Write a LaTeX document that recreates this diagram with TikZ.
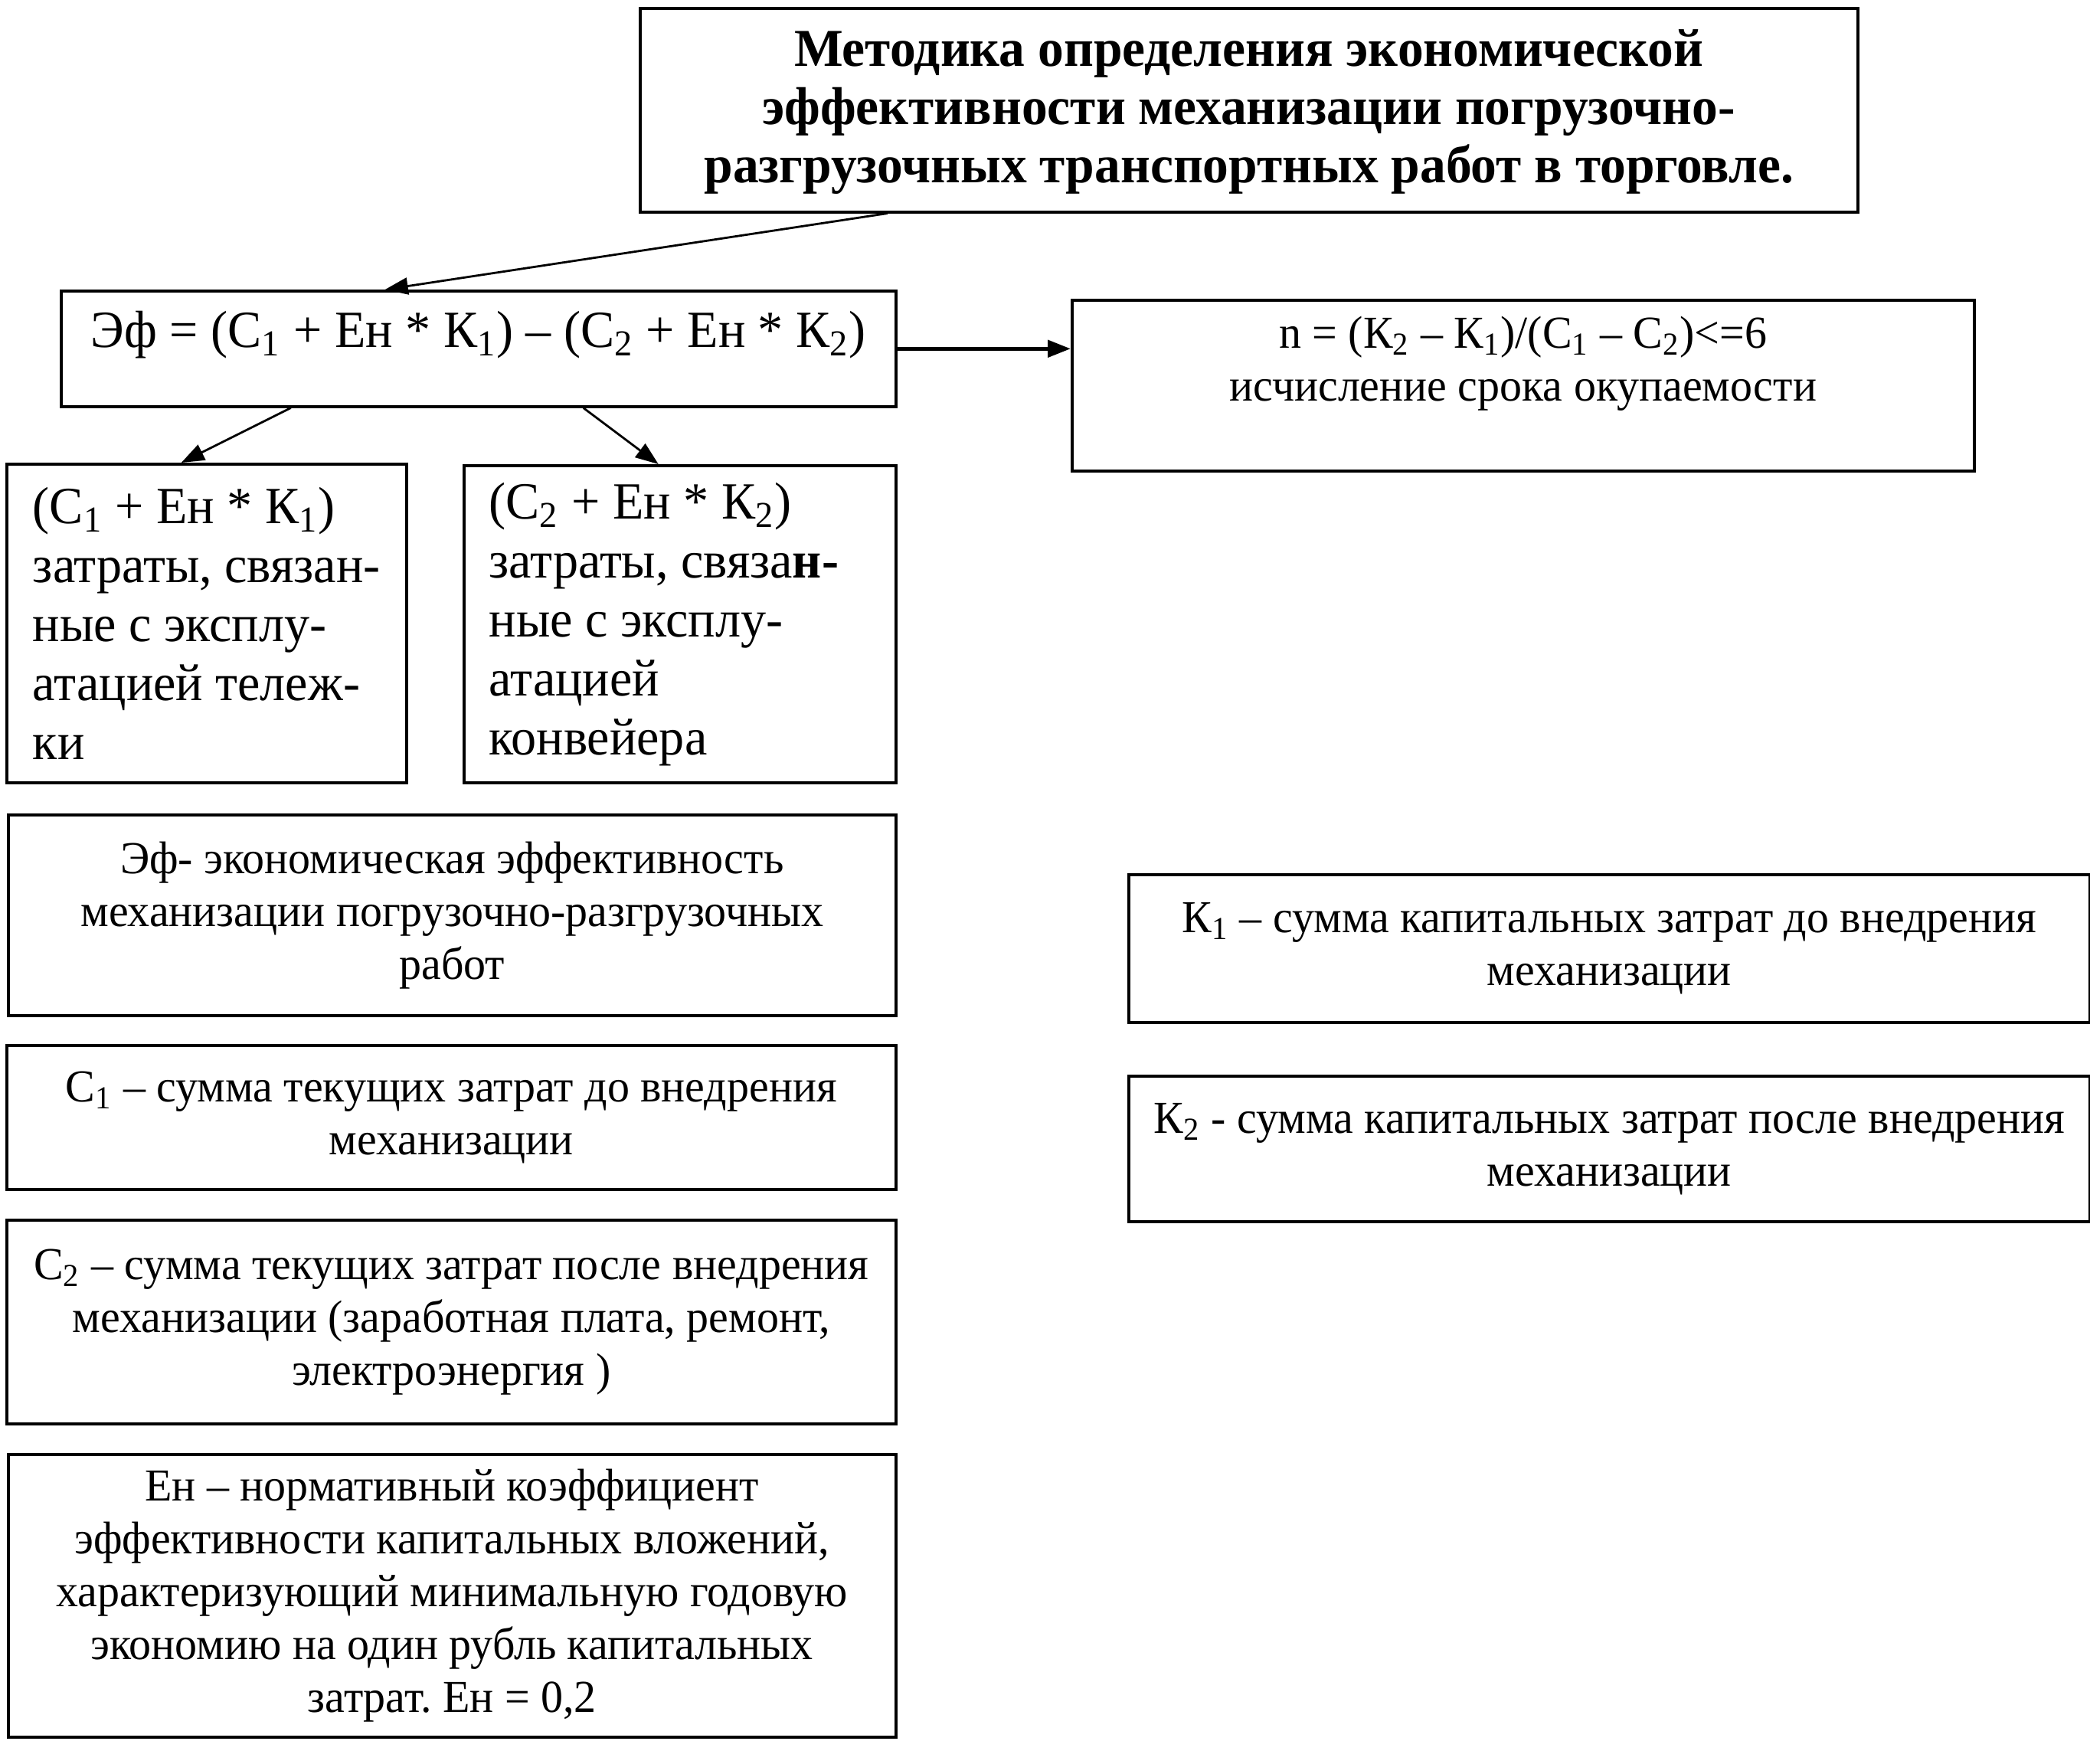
\documentclass[tikz,border=0pt]{standalone}
\usepackage{fontspec}
\setmainfont[FakeStretch=0.97]{Liberation Serif}
\usetikzlibrary{arrows.meta}
\frenchspacing

\begin{document}
\begin{tikzpicture}[
    box/.style={draw, line width=1pt, inner sep=0pt, anchor=north west},
    bigtxt/.style={font=\fontsize{19.4}{21.9}\selectfont},
    smalltxt/.style={font=\fontsize{17}{19.6}\selectfont, align=center},
    arr/.style={-{Triangle[length=0.3cm,width=0.22cm]}, line width=0.8pt}
]
    \useasboundingbox (0,0) rectangle (27.29,-23.02);

    % -------------------------------
    % заголовок и формула
    % -------------------------------
    \node[box, minimum width=15.90cm, minimum height=2.66cm, align=center, text depth=0.1cm,
          font=\bfseries\fontsize{19.8}{21.6}\selectfont] (title) at (8.34,-0.09)
        {Методика определения экономической\\
         эффективности механизации погрузочно-\\
         разгрузочных транспортных работ в торговле.};

    \node[box, bigtxt, minimum width=10.90cm, minimum height=1.51cm, text depth=0.5cm] (formula) at (0.78,-3.78)
        {Эф = (С\textsubscript{1} + Ен * К\textsubscript{1}) – (С\textsubscript{2} + Ен * К\textsubscript{2})};

    \node[box, smalltxt, minimum width=11.78cm, minimum height=2.23cm, text depth=0.7cm] (payback) at (13.98,-3.90)
        {n = (К\textsubscript{2} – К\textsubscript{1})/(С\textsubscript{1} – С\textsubscript{2})<=6\\
         исчисление срока окупаемости};

    % -------------------------------
    % две части формулы
    % -------------------------------
    \node[box, bigtxt, minimum width=5.22cm, minimum height=4.16cm, align=left] (tel) at (0.07,-6.04)
        {(С\textsubscript{1} + Ен * К\textsubscript{1})\\
         затраты, связан-\\
         ные с эксплу-\\
         атацией тележ-\\
         ки};

    \node[box, bigtxt, minimum width=5.64cm, minimum height=4.14cm, inner xsep=0.33cm,
          text width=4.98cm, align=flush left] (conv) at (6.04,-6.06)
        {(С\textsubscript{2} + Ен * К\textsubscript{2})\\
         затраты, связа\textbf{н-}\\
         ные с эксплу-\\
         атацией\\
         конвейера};

    % -------------------------------
    % обозначения
    % -------------------------------
    \node[box, smalltxt, minimum width=11.59cm, minimum height=2.62cm] (efdef) at (0.09,-10.62)
        {Эф- экономическая эффективность\\
         механизации погрузочно-разгрузочных\\
         работ};

    \node[box, smalltxt, minimum width=11.61cm, minimum height=1.88cm] (cadef) at (0.07,-13.63)
        {С\textsubscript{1} – сумма текущих затрат до внедрения\\
         механизации};

    \node[box, smalltxt, minimum width=11.61cm, minimum height=2.66cm] (cbdef) at (0.07,-15.91)
        {С\textsubscript{2} – сумма текущих затрат после внедрения\\
         механизации (заработная плата, ремонт,\\
         электроэнергия )};

    \node[box, smalltxt, minimum width=11.59cm, minimum height=3.69cm] (endef) at (0.09,-18.97)
        {Ен – нормативный коэффициент\\
         эффективности капитальных вложений,\\
         характеризующий минимальную годовую\\
         экономию на один рубль капитальных\\
         затрат. Ен = 0,2};

    \node[box, smalltxt, minimum width=12.55cm, minimum height=1.93cm] (kadef) at (14.72,-11.40)
        {К\textsubscript{1} – сумма капитальных затрат до внедрения\\
         механизации};

    \node[box, smalltxt, minimum width=12.55cm, minimum height=1.90cm] (kbdef) at (14.72,-14.03)
        {К\textsubscript{2} - сумма капитальных затрат после внедрения\\
         механизации};

    % стрелки
    \draw[arr] ([xshift=-4.72cm]title.south) -- ([xshift=-1.22cm]formula.north);
    \draw[arr] ([xshift=-2.45cm]formula.south) -- ([xshift=-0.33cm]tel.north);
    \draw[arr] ([xshift=1.37cm]formula.south) -- ([xshift=-0.28cm]conv.north);
    \draw[arr, line width=1.5pt] (formula.east) -- (formula.east -| payback.west);

\end{tikzpicture}
\end{document}
